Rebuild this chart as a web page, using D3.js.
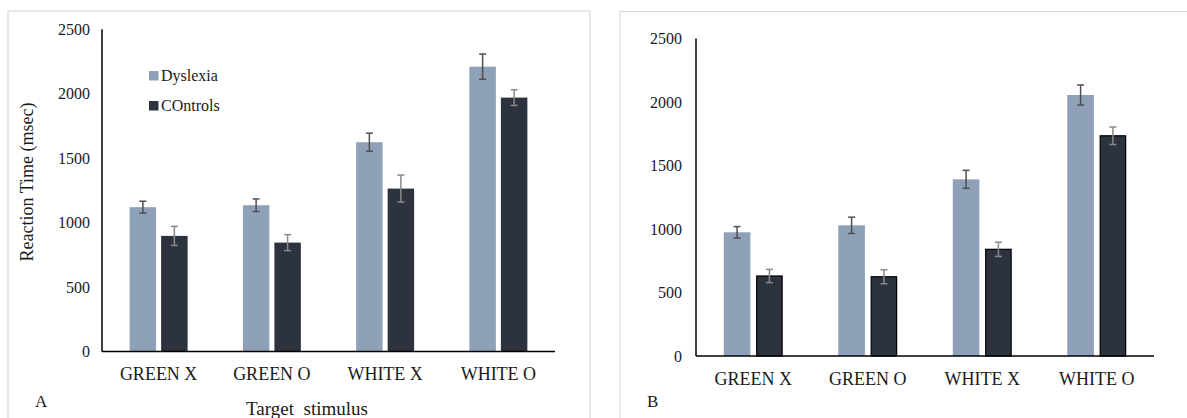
<!DOCTYPE html>
<html>
<head>
<meta charset="utf-8">
<script src="https://cdn.jsdelivr.net/npm/d3@7"></script>
<style>
  html, body { margin: 0; padding: 0; background: #fff; }
  svg { display: block; }
  text { font-family: "Liberation Serif", "Times New Roman", serif; fill: #1a1a1a; }
</style>
</head>
<body>
<svg id="chart" width="1187" height="418"></svg>
<script>
// Reaction times (msec) per target stimulus, two groups, two experiments (A, B)
const categories = ["GREEN X", "GREEN O", "WHITE X", "WHITE O"];
const seriesNames = ["Dyslexia", "COntrols"];
const yTicks = [0, 500, 1000, 1500, 2000, 2500];

// Panel A
const dyslexiaA = [1120, 1135, 1624, 2210];
const dyslexiaErrA = [46, 49, 70, 98];
const controlsA = [897, 845, 1264, 1970];
const controlsErrA = [74, 62, 105, 61];

// Panel B
const dyslexiaB = [974, 1029, 1391, 2055];
const dyslexiaErrB = [45, 64, 71, 79];
const controlsB = [630, 624, 840, 1734];
const controlsErrB = [52, 55, 56, 69];

const colors = { "Dyslexia": "#8fa1b8", "COntrols": "#2c333e" };
const errColors = { "Dyslexia": "#4f4f4f", "COntrols": "#8a8a8a" };
const serif = "'Liberation Serif', 'Times New Roman', serif";

const svg = d3.select("#chart");

function drawPanel(opt) {
  const g = svg.append("g");

  // panel frame
  g.append("rect")
    .attr("x", opt.frame[0]).attr("y", opt.frame[1])
    .attr("width", opt.frame[2]).attr("height", opt.frame[3])
    .attr("fill", "none").attr("stroke", "#d9d9d9").attr("stroke-width", 1.2);

  const x0 = d3.scaleBand().domain(categories)
    .range([opt.left, opt.right])
    .paddingInner(opt.groupPad).paddingOuter(opt.groupPad / 2);
  const x1 = d3.scaleBand().domain(seriesNames)
    .range([0, x0.bandwidth()]).paddingInner(opt.barPad);
  const y = d3.scaleLinear().domain([0, 2500]).range([opt.bottom, opt.top]);

  const rows = categories.map((c, i) => ({
    cat: c,
    vals: [
      { s: "Dyslexia", v: opt.dys[i], e: opt.dysErr[i] },
      { s: "COntrols", v: opt.ctl[i], e: opt.ctlErr[i] }
    ]
  }));

  const grp = g.selectAll("g.grp").data(rows).enter().append("g")
    .attr("class", "grp")
    .attr("transform", d => `translate(${x0(d.cat)},0)`);

  const outlined = d => opt.outline && d.s === "COntrols";
  grp.selectAll("rect.bar").data(d => d.vals).enter().append("rect")
    .attr("class", "bar")
    .attr("x", d => x1(d.s) + (outlined(d) ? 0.6 : 0))
    .attr("width", d => x1.bandwidth() - (outlined(d) ? 1.2 : 0))
    .attr("y", d => y(d.v))
    .attr("height", d => y(0) - y(d.v))
    .attr("fill", d => colors[d.s])
    .attr("stroke", d => outlined(d) ? "#000" : "none")
    .attr("stroke-width", 1.2);

  // error bars
  const eb = grp.selectAll("g.err").data(d => d.vals).enter().append("g")
    .attr("class", "err")
    .attr("stroke", d => errColors[d.s])
    .attr("stroke-width", 1.5);
  const cx = d => x1(d.s) + x1.bandwidth() / 2;
  eb.append("line")
    .attr("x1", cx).attr("x2", cx)
    .attr("y1", d => y(d.v + d.e)).attr("y2", d => y(d.v - d.e));
  eb.append("line")
    .attr("x1", d => cx(d) - 3.5).attr("x2", d => cx(d) + 3.5)
    .attr("y1", d => y(d.v + d.e)).attr("y2", d => y(d.v + d.e));
  eb.append("line")
    .attr("x1", d => cx(d) - 3.5).attr("x2", d => cx(d) + 3.5)
    .attr("y1", d => y(d.v - d.e)).attr("y2", d => y(d.v - d.e));

  // y axis labels
  const yAxis = d3.axisLeft(y).tickValues(yTicks).tickFormat(d3.format("d"))
    .tickSize(0).tickPadding(opt.tickPad);
  const ya = g.append("g").attr("transform", `translate(${opt.left},0)`).call(yAxis)
    .attr("font-family", serif);
  ya.select(".domain").remove();
  ya.selectAll("text").style("font-size", "16px").style("font-family", serif).attr("fill", "#1a1a1a");

  // x axis labels
  const xAxis = d3.axisBottom(x0).tickSize(0).tickPadding(opt.xLabelPad);
  const xa = g.append("g").attr("transform", `translate(0,${opt.bottom})`).call(xAxis)
    .attr("font-family", serif);
  xa.select(".domain").remove();
  xa.selectAll("text").style("font-size", "18px").style("font-family", serif).attr("fill", "#1a1a1a");

  // axis lines
  g.append("line").attr("x1", opt.left).attr("x2", opt.left)
    .attr("y1", y(2500)).attr("y2", y(0))
    .attr("stroke", "#000").attr("stroke-width", 1.5);
  g.append("line").attr("x1", opt.left).attr("x2", opt.right)
    .attr("y1", y(0)).attr("y2", y(0))
    .attr("stroke", "#000").attr("stroke-width", 1.5);

  // panel letter
  g.append("text").attr("x", opt.letterX).attr("y", 407)
    .style("font-size", "17px").text(opt.letter);

  return { g, x0, y };
}

const A = drawPanel({
  frame: [8, 11, 582, 420],
  left: 102, right: 555, top: 29.3, bottom: 351.5,
  groupPad: 0.488, barPad: 0.16, tickPad: 12, xLabelPad: 16,
  dys: dyslexiaA, dysErr: dyslexiaErrA, ctl: controlsA, ctlErr: controlsErrA,
  outline: false, letter: "A", letterX: 35
});

const B = drawPanel({
  frame: [620, 11.5, 580, 420],
  left: 696, right: 1154, top: 38.5, bottom: 356,
  groupPad: 0.485, barPad: 0.176, tickPad: 14, xLabelPad: 16,
  dys: dyslexiaB, dysErr: dyslexiaErrB, ctl: controlsB, ctlErr: controlsErrB,
  outline: true, letter: "B", letterX: 647
});

// panel A titles
A.g.append("text")
  .attr("transform", "translate(33,182) rotate(-90)")
  .attr("text-anchor", "middle")
  .style("font-size", "18px")
  .text("Reaction Time (msec)");

A.g.append("text")
  .attr("x", 307).attr("y", 415)
  .attr("text-anchor", "middle")
  .style("font-size", "19px")
  .style("white-space", "pre")
  .text("Target  stimulus");

// legend (panel A)
const legend = A.g.append("g").attr("transform", "translate(149,71)");
const li = legend.selectAll("g").data(seriesNames).enter().append("g")
  .attr("transform", (d, i) => `translate(0,${i * 30})`);
li.append("rect").attr("width", 9.5).attr("height", 9.5).attr("fill", d => colors[d]);
li.append("text").attr("x", 12).attr("y", 10)
  .style("font-size", "16px").text(d => d);
</script>
</body>
</html>
